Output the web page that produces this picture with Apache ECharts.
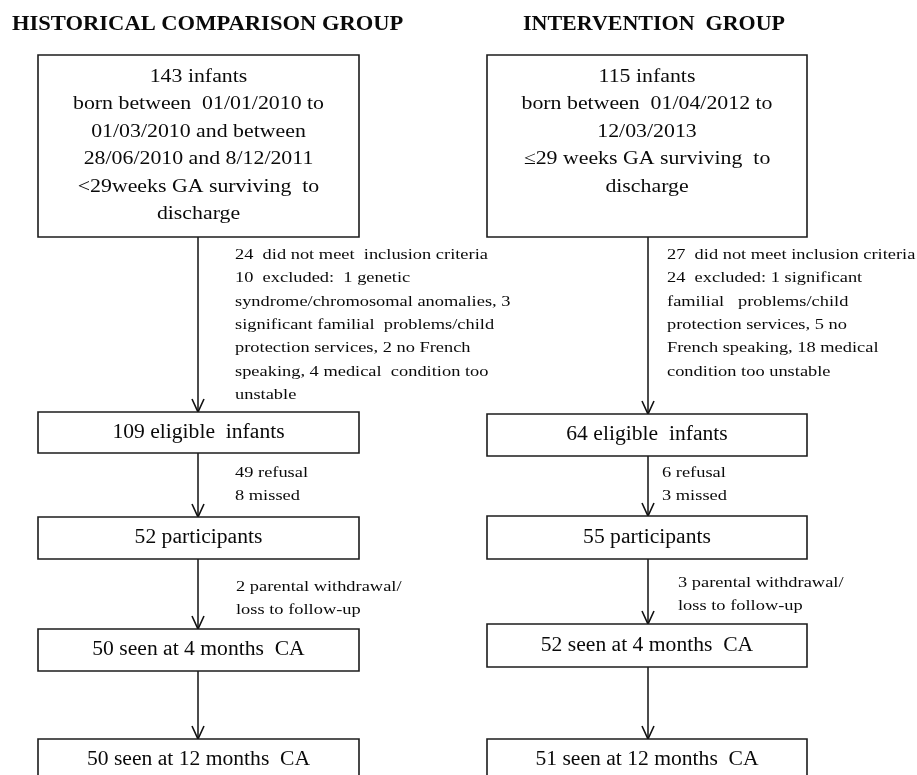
<!DOCTYPE html>
<html>
<head>
<meta charset="utf-8">
<script src="https://cdn.jsdelivr.net/npm/echarts@6/dist/echarts.min.js"></script>
<style>
  html, body { margin: 0; padding: 0; background: #fff; }
  #chart { width: 917px; height: 775px; }
</style>
</head>
<body>
<div id="chart"></div>
<script>
// flow data, one entry per group (historical, intervention)
const groupTitles = ['HISTORICAL COMPARISON GROUP', 'INTERVENTION  GROUP'];
const cohortLines = [
  ['143 infants', 'born between  01/01/2010 to', '01/03/2010 and between', '28/06/2010 and 8/12/2011', '<29weeks GA surviving  to', 'discharge'],
  ['115 infants', 'born between  01/04/2012 to', '12/03/2013', '\u226429 weeks GA surviving  to', 'discharge']
];
const exclusionNotes = [
  ['24  did not meet  inclusion criteria', '10  excluded:  1 genetic', 'syndrome/chromosomal anomalies, 3', 'significant familial  problems/child', 'protection services, 2 no French', 'speaking, 4 medical  condition too', 'unstable'],
  ['27  did not meet inclusion criteria', '24  excluded: 1 significant', 'familial   problems/child', 'protection services, 5 no', 'French speaking, 18 medical', 'condition too unstable']
];
const eligibleCounts = [109, 64];
const refusals = [49, 6];
const missed = [8, 3];
const participantCounts = [52, 55];
const withdrawals = [2, 3];
const seen4m = [50, 52];
const seen12m = [50, 51];

// page layout per column
const cols = [
  { left: 38, right: 359, arrowX: 198, noteX: 235, refX: 235, wdX: 236, titleX: 12, titleAlign: 'left', wdY: 587,
    top: [55, 237], elig: [412, 453], part: [517, 559], m4: [629, 671], m12: [739, 800] },
  { left: 487, right: 807, arrowX: 648, noteX: 667, refX: 662, wdX: 678, titleX: 654, titleAlign: 'center', wdY: 583,
    top: [55, 237], elig: [414, 456], part: [516, 559], m4: [624, 667], m12: [739, 800] }
];

const FONT = '"Liberation Serif", "Times New Roman", serif';
const INK = '#0a0a0a';

function txt(x, y, text, size, opts) {
  opts = opts || {};
  const align = opts.align || 'center';
  const vAlign = opts.vAlign || 'middle';
  return {
    type: 'text', x: x, y: y, scaleX: opts.sx || 1,
    style: {
      text: text, fill: INK, fontFamily: FONT, fontSize: size,
      fontWeight: opts.bold ? 'bold' : 'normal',
      lineHeight: opts.lh,
      align: align, verticalAlign: vAlign,
      textAlign: align, textVerticalAlign: vAlign
    }
  };
}

function box(c, ys) {
  return {
    type: 'rect',
    shape: { x: c.left, y: ys[0], width: c.right - c.left, height: ys[1] - ys[0] },
    style: { fill: '#fff', stroke: '#1c1c1c', lineWidth: 1.6 }
  };
}

function arrow(x, y0, y1) {
  return [
    { type: 'line', shape: { x1: x, y1: y0, x2: x, y2: y1 }, style: { stroke: '#111', lineWidth: 1.5 } },
    { type: 'polyline', shape: { points: [[x - 6, y1 - 13], [x, y1], [x + 6, y1 - 13]] },
      style: { stroke: '#111', lineWidth: 1.6, fill: null } }
  ];
}

function buildGraphics() {
  let els = [];
  cols.forEach(function (c, i) {
    const mid = (c.left + c.right) / 2;
    els.push(txt(c.titleX, 24, groupTitles[i], 22, { bold: true, align: c.titleAlign, sx: i === 0 ? 1.025 : 1 }));

    // arrows first so boxes sit on top of them
    els = els.concat(arrow(c.arrowX, c.top[1], c.elig[0]));
    els = els.concat(arrow(c.arrowX, c.elig[1], c.part[0]));
    els = els.concat(arrow(c.arrowX, c.part[1], c.m4[0]));
    els = els.concat(arrow(c.arrowX, c.m4[1], c.m12[0]));

    els.push(box(c, c.top));
    els.push(txt(mid, 77 - 13.75, cohortLines[i].join('\n'), 18.5, { vAlign: 'top', lh: 27.5, sx: 1.18 }));

    els.push(box(c, c.elig));
    els.push(txt(mid, (c.elig[0] + c.elig[1]) / 2, eligibleCounts[i] + ' eligible  infants', 20, { sx: 1.08 }));

    els.push(box(c, c.part));
    els.push(txt(mid, (c.part[0] + c.part[1]) / 2, participantCounts[i] + ' participants', 20, { sx: 1.08 }));

    els.push(box(c, c.m4));
    els.push(txt(mid, (c.m4[0] + c.m4[1]) / 2, seen4m[i] + ' seen at 4 months  CA', 20, { sx: 1.08 }));

    els.push(box(c, c.m12));
    els.push(txt(mid, 760, seen12m[i] + ' seen at 12 months  CA', 20, { sx: 1.08 }));

    // side notes
    els.push(txt(c.noteX, 255 - 11.7, exclusionNotes[i].join('\n'), 15.6, { align: 'left', vAlign: 'top', lh: 23.3, sx: 1.18 }));
    els.push(txt(c.refX, 473 - 11.7, refusals[i] + ' refusal\n' + missed[i] + ' missed', 15.6, { align: 'left', vAlign: 'top', lh: 23.3, sx: 1.18 }));
    els.push(txt(c.wdX, c.wdY - 11.7, withdrawals[i] + ' parental withdrawal/\nloss to follow-up', 15.6, { align: 'left', vAlign: 'top', lh: 23.3, sx: 1.18 }));
  });
  return els;
}

const chart = echarts.init(document.getElementById('chart'));
chart.setOption({
  backgroundColor: '#fff',
  animation: false,
  graphic: { elements: buildGraphics() }
});
</script>
</body>
</html>
